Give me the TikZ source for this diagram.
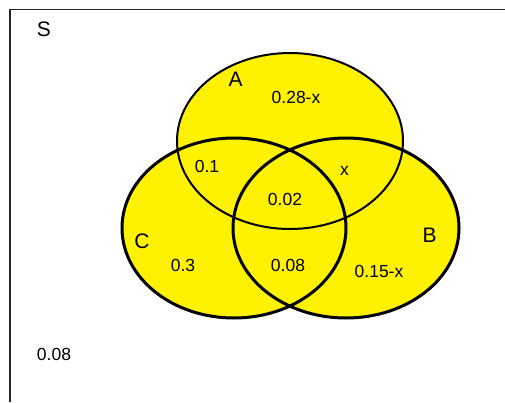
\documentclass[tikz,border=0pt]{standalone}
\usepackage{fontspec}
\setmainfont{Liberation Sans}
\usetikzlibrary{positioning}
\tikzset{setlbl/.style={inner sep=0pt,font=\fontsize{21}{22}\selectfont},
  prob/.style={inner sep=0pt,font=\fontsize{17.5}{18}\selectfont},
  thinrim/.style={draw=black,line width=2pt},
  thickrim/.style={draw=black,line width=3pt}}
\begin{document}
\begin{tikzpicture}[x=1pt,y=-1pt]
\useasboundingbox (0,0) rectangle (505,402);
% frame of the sample space
\draw[line width=1.3pt,black!85] (10,402) -- (10,9.5) -- (505,9.5);
% the three sets
\fill[yellow] (290,141) ellipse [x radius=113pt,y radius=88pt];
\fill[yellow] (234,228) ellipse [x radius=112pt,y radius=90pt];
\fill[yellow] (346,228) ellipse [x radius=113pt,y radius=90pt];
\draw[thinrim] (290,141) ellipse [x radius=113pt,y radius=88pt];
\draw[thickrim] (234,228) ellipse [x radius=112pt,y radius=90pt];
\draw[thickrim] (346,228) ellipse [x radius=113pt,y radius=90pt];
% labels
\node[setlbl] (S) at (44,29) {S};
\node[setlbl] (A) at (235.5,79) {A};
\node[setlbl] (B) at (429.5,235) {B};
\node[setlbl] (C) at (142,241.5) {C};
\node[prob] (pA) at (296,97) {0.28-x};
\node[prob] (pAC) at (207,166) {0.1};
\node[prob] (pAB) at (344.5,171) {x};
\node[prob] (pABC) at (285,199) {0.02};
\node[prob] (pC) at (183,265) {0.3};
\node[prob] (pBC) at (288,265.5) {0.08};
\node[prob] (pB) at (379,271.5) {0.15-x};
\node[prob] (pout) at (54,354.5) {0.08};
\end{tikzpicture}
\end{document}
